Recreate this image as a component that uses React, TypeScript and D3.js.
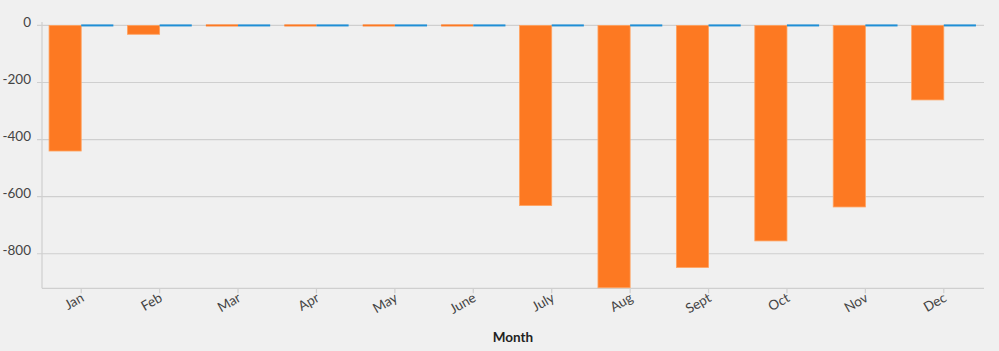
import React from "react";
import * as d3 from "d3";

const months = ["Jan", "Feb", "Mar", "Apr", "May", "June", "July", "Aug", "Sept", "Oct", "Nov", "Dec"];
const orangeValues = [-440, -31, -3, -3, -3, -3, -631, -919, -848, -755, -636, -261];
const blueValues = [0, 0, 0, 0, 0, 0, 0, 0, 0, 0, 0, 0];
const yTicks = [0, -200, -400, -600, -800];
const yDomain: [number, number] = [-921, 12];
const xTitle = "Month";

const W = 999;
const H = 351;
const left = 42;
const right = 983;
const top = 22;
const bottom = 288.3;

export default function App() {
  const x = d3.scaleBand<string>().domain(months).range([left, right]).paddingInner(0.18).paddingOuter(0.09);
  const inner = d3.scaleBand<string>().domain(["o", "b"]).range([0, x.bandwidth()]);
  const y = d3.scaleLinear().domain(yDomain).range([bottom, top]);
  const y0 = y(0);
  const font = "Lato, 'Noto Sans', sans-serif";

  const barRect = (v: number) => {
    const yy = y(v);
    const h = Math.abs(yy - y0);
    if (h < 2) return { y: y0 - 1, h: 2 };
    return { y: Math.min(yy, y0), h };
  };

  return (
    <svg width={W} height={H} style={{ position: "absolute", left: 0, top: 0, background: "#f0f0f0" }}>
      <rect x={0} y={0} width={W} height={H} fill="#f0f0f0" />
      {yTicks.map((t) => (
        <g key={t}>
          <line x1={left - 5} x2={right + 1} y1={y(t)} y2={y(t)} stroke="#cfcfcf" strokeWidth={1.2} />
          <text x={31} y={y(t)} dy="0.12em" textAnchor="end" fontFamily={font} fontSize={13.5} fill="#444">
            {t}
          </text>
        </g>
      ))}
      <line x1={left} x2={left} y1={top} y2={bottom} stroke="#cfcfcf" strokeWidth={1.2} />
      <line x1={left} x2={right + 1} y1={bottom} y2={bottom} stroke="#cfcfcf" strokeWidth={1.2} />
      {months.map((m, i) => {
        const bx = x(m)!;
        const o = barRect(orangeValues[i]);
        const b = barRect(blueValues[i]);
        return (
          <g key={m}>
            <rect x={bx + inner("o")!} y={o.y} width={inner.bandwidth()} height={o.h} fill="#fd7922" stroke={o.h > 3 ? "#ffa25f" : "none"} strokeWidth={0.8} />
            <rect x={bx + inner("b")!} y={b.y} width={inner.bandwidth()} height={b.h} fill="#1f8fd6" />
          </g>
        );
      })}
      {months.map((m) => {
        const cx = x(m)! + x.bandwidth() / 2;
        return (
          <g key={m + "t"}>
            <line x1={cx} x2={cx} y1={bottom} y2={bottom + 5} stroke="#cfcfcf" strokeWidth={1.2} />
            <text
              transform={`translate(${cx - 1},${bottom + 4}) rotate(-30)`}
              textAnchor="end"
              dy="0.7em"
              fontFamily={font}
              fontSize={13.5}
              fill="#444"
            >
              {m}
            </text>
          </g>
        );
      })}
      <text x={513} y={341.5} textAnchor="middle" fontFamily={font} fontWeight="bold" fontSize={13.5} fill="#222">
        {xTitle}
      </text>
    </svg>
  );
}
